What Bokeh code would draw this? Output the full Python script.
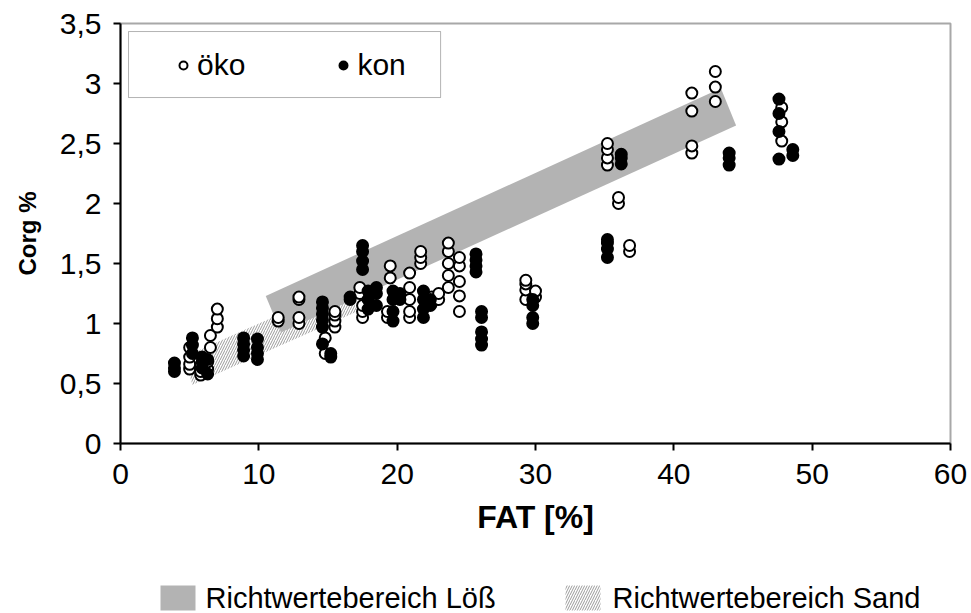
from bokeh.plotting import figure
from bokeh.layouts import column
from bokeh.models import (Legend, LegendItem, Range1d, FixedTicker, CustomJSTickFormatter,
                          BoxAnnotation)
from bokeh.core.properties import value
from bokeh.embed import file_html
from bokeh.resources import INLINE

# ---------------- data ----------------
x_ticks = [0, 10, 20, 30, 40, 50, 60]
y_ticks = [0, 0.5, 1, 1.5, 2, 2.5, 3, 3.5]

oeko_x = [5.0, 5.0, 5.0, 5.0, 5.8, 5.8, 5.8, 6.3, 6.3, 6.5, 6.5, 7.0, 7.0, 7.0,
          11.4, 11.4, 12.9, 12.9, 12.9, 12.9, 14.8, 14.8, 15.5, 15.5, 15.5, 15.5,
          17.3, 17.3, 17.5, 17.5, 17.5, 19.3, 19.3, 19.5, 19.5,
          20.9, 20.9, 20.9, 20.9, 20.9, 21.7, 21.7, 21.7, 22.5, 22.5, 23.0, 23.0,
          23.7, 23.7, 23.7, 23.7, 23.7, 24.5, 24.5, 24.5, 24.5, 24.5,
          29.3, 29.3, 29.3, 29.3, 30.0, 30.0,
          35.2, 35.2, 35.2, 35.2, 36.0, 36.0, 36.8, 36.8,
          41.3, 41.3, 41.3, 41.3, 43.0, 43.0, 43.0, 47.8, 47.8, 47.8]
oeko_y = [0.62, 0.66, 0.72, 0.80, 0.57, 0.60, 0.65, 0.62, 0.68, 0.80, 0.90, 0.97, 1.04, 1.12,
          1.02, 1.05, 1.00, 1.05, 1.20, 1.22, 0.75, 0.88, 0.97, 1.02, 1.07, 1.10,
          1.25, 1.30, 1.05, 1.10, 1.15, 1.05, 1.10, 1.38, 1.48,
          1.05, 1.10, 1.20, 1.30, 1.42, 1.50, 1.55, 1.60, 1.17, 1.22, 1.20, 1.25,
          1.30, 1.40, 1.50, 1.60, 1.67, 1.10, 1.23, 1.35, 1.48, 1.55,
          1.20, 1.28, 1.33, 1.36, 1.22, 1.27,
          2.32, 2.38, 2.45, 2.50, 2.00, 2.05, 1.60, 1.65,
          2.42, 2.48, 2.77, 2.92, 2.85, 2.97, 3.10, 2.52, 2.68, 2.80]

kon_x = [3.9, 3.9, 3.9, 5.2, 5.2, 5.2, 5.9, 5.9, 5.9, 6.3, 6.3,
         8.9, 8.9, 8.9, 8.9, 9.9, 9.9, 9.9, 9.9,
         14.6, 14.6, 14.6, 14.6, 14.6, 14.6, 15.2, 15.2, 16.6, 16.6,
         17.5, 17.5, 17.5, 17.5, 17.9, 17.9, 17.9, 18.5, 18.5, 18.5,
         19.7, 19.7, 19.7, 19.7, 20.2, 20.2, 21.9, 21.9, 21.9, 21.9, 22.4, 22.4,
         25.7, 25.7, 25.7, 25.7, 26.1, 26.1, 26.1, 26.1, 26.1,
         29.8, 29.8, 29.8, 29.8, 35.2, 35.2, 35.2, 35.2, 36.2, 36.2, 36.2,
         44.0, 44.0, 44.0, 47.6, 47.6, 47.6, 47.6, 48.6, 48.6]
kon_y = [0.60, 0.63, 0.67, 0.75, 0.82, 0.88, 0.63, 0.68, 0.72, 0.58, 0.70,
         0.73, 0.78, 0.83, 0.88, 0.70, 0.75, 0.80, 0.87,
         0.83, 0.97, 1.03, 1.08, 1.13, 1.18, 0.72, 0.75, 1.20, 1.22,
         1.45, 1.52, 1.60, 1.65, 1.12, 1.20, 1.27, 1.15, 1.25, 1.30,
         1.02, 1.10, 1.20, 1.27, 1.20, 1.25, 1.05, 1.12, 1.20, 1.27, 1.15, 1.20,
         1.43, 1.48, 1.53, 1.58, 0.82, 0.87, 0.93, 1.05, 1.10,
         1.00, 1.05, 1.15, 1.20, 1.55, 1.62, 1.67, 1.70, 2.33, 2.38, 2.41,
         2.32, 2.38, 2.42, 2.37, 2.60, 2.75, 2.87, 2.40, 2.45]

# guide-value ranges (Richtwertebereiche)
loess_x = [10.5, 43.4, 44.5, 11.6]
loess_y = [1.23, 2.96, 2.65, 0.925]
sand_x = [4.6, 16.4, 17.1, 5.2]
sand_y = [0.72, 1.33, 1.10, 0.49]

legend_labels = ["Richtwertebereich Löß", "Richtwertebereich Sand"]

FONT = "Liberation Sans"
LOESS_COLOR = "#b3b3b3"
HATCH = dict(hatch_pattern="/", hatch_color="#9a9a9a", hatch_scale=5, hatch_weight=1)
LEFT, RIGHT = 120, 21

# ---------------- main plot ----------------
p = figure(width=971, height=570, output_backend="svg", toolbar_location=None,
           x_range=Range1d(0, 60), y_range=Range1d(0, 3.5),
           min_border_left=LEFT, min_border_right=RIGHT, min_border_top=23, min_border_bottom=127)
p.grid.visible = False
p.background_fill_color = "white"
p.outline_line_color = "#a8a8a8"
p.outline_line_width = 2

r_sand = p.patch(sand_x, sand_y, fill_color="white", line_color=None, **HATCH)
r_loess = p.patch(loess_x, loess_y, fill_color=LOESS_COLOR, line_color=None)

r_oeko = p.scatter(oeko_x, oeko_y, marker="circle", size=11, fill_color="white",
                   line_color="black", line_width=2)
r_kon = p.scatter(kon_x, kon_y, marker="circle", size=11, fill_color="black",
                  line_color="black", line_width=2)

fmt = CustomJSTickFormatter(code="return tick.toString().replace('.', ',');")
for ax, ticks in ((p.xaxis, x_ticks), (p.yaxis, y_ticks)):
    ax.ticker = FixedTicker(ticks=ticks)
    ax.formatter = fmt
    ax.axis_line_color = "black"
    ax.axis_line_width = 2
    ax.major_tick_line_color = "black"
    ax.major_tick_line_width = 2
    ax.major_tick_out = 7
    ax.major_tick_in = 0
    ax.minor_tick_line_color = None
    ax.major_label_text_font = FONT
    ax.major_label_text_font_size = "30px"
    ax.major_label_text_color = "black"
    ax.axis_label_text_font = FONT
    ax.axis_label_text_font_style = "bold"
    ax.axis_label_text_color = "black"
p.xaxis.major_label_standoff = 13
p.yaxis.major_label_standoff = 12

p.xaxis.axis_label = "FAT [%]"
p.xaxis.axis_label_text_font_size = "32px"
p.xaxis.axis_label_standoff = 12

p.yaxis.axis_label = "Corg %"
p.yaxis.axis_label_text_font_size = "24px"
p.yaxis.axis_label_standoff = 16

# legend box (white, black border) behind the legend entries
p.add_layout(BoxAnnotation(left=0.58, right=23.14, bottom=2.883, top=3.433,
                           fill_color="white", fill_alpha=1, line_color="black",
                           line_width=1, level="overlay"))
leg_top = Legend(items=[LegendItem(label="öko", renderers=[r_oeko]),
                        LegendItem(label="kon", renderers=[r_kon])],
                 orientation="horizontal", location=(53, 361), margin=0,
                 padding=0, spacing=88, glyph_width=20, glyph_height=28, label_standoff=4,
                 label_text_font=FONT, label_text_font_size="30px", label_text_color="black",
                 border_line_alpha=0, background_fill_alpha=0)
p.add_layout(leg_top)

# ---------------- bottom legend (pixel coordinates, frame aligned with main plot) ----------------
legf = figure(width=971, height=43, output_backend="svg", toolbar_location=None,
              x_range=Range1d(LEFT, 971 - RIGHT), y_range=Range1d(0, 43),
              x_axis_location=None, y_axis_location=None,
              min_border_left=LEFT, min_border_right=RIGHT, min_border_top=0, min_border_bottom=0)
legf.grid.visible = False
legf.outline_line_color = None
legf.quad(left=[160], right=[195], bottom=[3], top=[28], fill_color=LOESS_COLOR, line_color=None)
legf.quad(left=[565], right=[600], bottom=[3], top=[28], fill_color="white", line_color=None, **HATCH)
legf.text(x=[205, 612], y=[15.5, 15.5], text=legend_labels,
          text_font=value(FONT), text_font_size="29px",
          text_align="left", text_baseline="middle", text_color="black")

layout = column(p, legf, spacing=0)
open("out.html", "w").write(file_html(layout, INLINE))
